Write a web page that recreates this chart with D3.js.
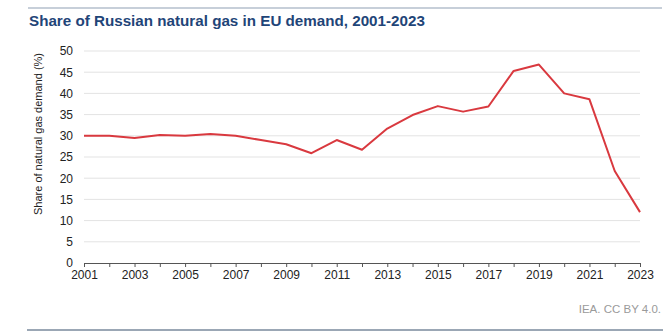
<!DOCTYPE html>
<html>
<head>
<meta charset="utf-8">
<script src="https://cdn.jsdelivr.net/npm/d3@7"></script>
<style>
  html, body { margin: 0; padding: 0; background: #fff; }
  svg { display: block; font-family: "Liberation Sans", Arial, sans-serif; }
</style>
</head>
<body>
<div id="chart"></div>
<script>
// Share of EU gas demand met by Russian supply, per year
const years = d3.range(2001, 2024);
const shares = [30.0, 30.0, 29.5, 30.2, 30.0, 30.4, 30.0, 29.0, 28.0, 25.9,
                29.0, 26.7, 31.7, 34.9, 37.0, 35.7, 36.9, 45.3, 46.8, 40.0,
                38.6, 21.7, 12.0];
const yTicks = d3.range(0, 51, 5);
const xTickLabels = years.filter(y => (y - 2001) % 2 === 0);

const width = 666;
const height = 333;
const margin = {top: 51, right: 26, bottom: 70, left: 84};

const svg = d3.select('#chart').append('svg')
  .attr('width', width)
  .attr('height', height);

// frame rules
svg.append('line')
  .attr('x1', 28).attr('x2', 662).attr('y1', 8).attr('y2', 8)
  .attr('stroke', '#b4bfcc').attr('stroke-width', 1.5);
svg.append('line')
  .attr('x1', 27).attr('x2', 663).attr('y1', 330).attr('y2', 330)
  .attr('stroke', '#9ba7b5').attr('stroke-width', 2);

svg.append('text')
  .attr('x', 29).attr('y', 26)
  .style('font-size', '15.2px')
  .style('font-weight', 'bold')
  .attr('fill', '#1f4578')
  .text('Share of Russian natural gas in EU demand, 2001-2023');

const x = d3.scaleLinear()
  .domain([2001, 2023])
  .range([margin.left, width - margin.right]);

const y = d3.scaleLinear()
  .domain([0, 50])
  .range([height - margin.bottom, margin.top]);

// gridlines
svg.append('g')
  .selectAll('line')
  .data(yTicks.filter(d => d > 0))
  .enter().append('line')
  .attr('x1', x(2001)).attr('x2', x(2023))
  .attr('y1', d => y(d)).attr('y2', d => y(d))
  .attr('stroke', '#e3e3e3').attr('stroke-width', 1);

const yAxis = svg.append('g')
  .attr('transform', `translate(${margin.left - 1},0)`)
  .call(d3.axisLeft(y).tickValues(yTicks).tickSize(0).tickPadding(10));
yAxis.select('.domain').remove();
yAxis.selectAll('text')
  .style('font-size', '12px')
  .attr('fill', '#222');

const xAxis = svg.append('g')
  .attr('transform', `translate(0,${y(0)})`)
  .call(d3.axisBottom(x)
    .tickValues(years)
    .tickSize(4)
    .tickSizeOuter(0)
    .tickPadding(3)
    .tickFormat(d => xTickLabels.includes(d) ? String(d) : ''));
xAxis.select('.domain').attr('stroke', '#555');
xAxis.selectAll('.tick line').attr('stroke', '#555');
xAxis.selectAll('text')
  .style('font-size', '12px')
  .attr('fill', '#222');

svg.append('text')
  .attr('transform', 'translate(42,134) rotate(-90)')
  .attr('text-anchor', 'middle')
  .style('font-size', '11px')
  .attr('fill', '#222')
  .text('Share of natural gas demand (%)');

const line = d3.line()
  .x((d, i) => x(years[i]))
  .y(d => y(d));

svg.append('path')
  .datum(shares)
  .attr('fill', 'none')
  .attr('stroke', '#d9393f')
  .attr('stroke-width', 2)
  .attr('stroke-linejoin', 'round')
  .attr('d', line);

svg.append('text')
  .attr('x', 661).attr('y', 313)
  .attr('text-anchor', 'end')
  .style('font-size', '11.5px')
  .attr('fill', '#9a9a9a')
  .text('IEA. CC BY 4.0.');
</script>
</body>
</html>
